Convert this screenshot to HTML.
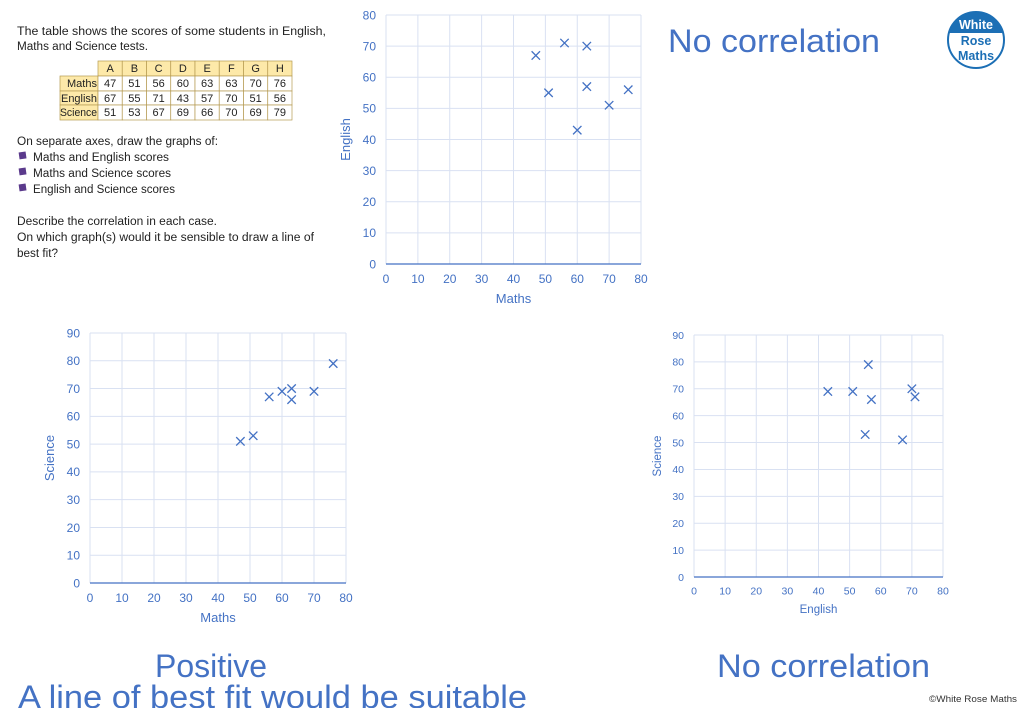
<!DOCTYPE html>
<html><head><meta charset="utf-8"><style>
html,body{margin:0;padding:0;background:#fff;width:1024px;height:708px;overflow:hidden}
svg{display:block;font-family:"Liberation Sans",sans-serif}
</style></head><body>
<svg id="s" width="1024" height="708" viewBox="0 0 1024 708">
<g font-size="11.5" fill="#222">
<text x="17" y="35" textLength="309" lengthAdjust="spacingAndGlyphs">The table shows the scores of some students in English,</text>
<text x="17" y="50" textLength="131" lengthAdjust="spacingAndGlyphs">Maths and Science tests.</text>
<text x="17" y="145" textLength="201" lengthAdjust="spacingAndGlyphs">On separate axes, draw the graphs of:</text>
<text x="33" y="161" textLength="136" lengthAdjust="spacingAndGlyphs">Maths and English scores</text>
<text x="33" y="177" textLength="138" lengthAdjust="spacingAndGlyphs">Maths and Science scores</text>
<text x="33" y="193" textLength="142" lengthAdjust="spacingAndGlyphs">English and Science scores</text>
<text x="17" y="225" textLength="200" lengthAdjust="spacingAndGlyphs">Describe the correlation in each case.</text>
<text x="17" y="241" textLength="297" lengthAdjust="spacingAndGlyphs">On which graph(s) would it be sensible to draw a line of</text>
<text x="17" y="257" textLength="41" lengthAdjust="spacingAndGlyphs">best fit?</text>
<rect x="19" y="152" width="7" height="7" fill="#5b3a8c" transform="rotate(-8 22 155)"/>
<rect x="19" y="168" width="7" height="7" fill="#5b3a8c" transform="rotate(-8 22 171)"/>
<rect x="19" y="184" width="7" height="7" fill="#5b3a8c" transform="rotate(-8 22 187)"/>
</g>
<g id="tbl"></g>
<g id="charts"></g>
<g>
<circle cx="976" cy="40" r="28" fill="#fff" stroke="#1c6fb5" stroke-width="2"/>
<path d="M949,33 A28,28 0 0 1 1003,33 Z" fill="#1c6fb5"/>
<text x="976" y="29" font-size="12.5" font-weight="bold" fill="#fff" text-anchor="middle">White</text>
<text x="976" y="45" font-size="12.5" font-weight="bold" fill="#1c6fb5" text-anchor="middle">Rose</text>
<text x="976" y="60" font-size="12.5" font-weight="bold" fill="#1c6fb5" text-anchor="middle">Maths</text>
</g>
<g fill="#4472c4" font-size="32">
<text x="668" y="52" textLength="212" lengthAdjust="spacingAndGlyphs">No correlation</text>
<text x="155" y="677" textLength="112" lengthAdjust="spacingAndGlyphs">Positive</text>
<text x="18" y="708" textLength="509" lengthAdjust="spacingAndGlyphs">A line of best fit would be suitable</text>
<text x="717" y="677" textLength="213" lengthAdjust="spacingAndGlyphs">No correlation</text>
</g>
<text x="929" y="702" font-size="9" fill="#333" textLength="88" lengthAdjust="spacingAndGlyphs">©White Rose Maths</text>
</svg>
<script>
const NS="http://www.w3.org/2000/svg";
const students=["A","B","C","D","E","F","G","H"];
const maths=[47,51,56,60,63,63,70,76];
const english=[67,55,71,43,57,70,51,56];
const science=[51,53,67,69,66,70,69,79];
const xTicks1=[0,10,20,30,40,50,60,70,80];
const yTicks80=[0,10,20,30,40,50,60,70,80];
const yTicks90=[0,10,20,30,40,50,60,70,80,90];
function mk(tag,attrs,parent){const e=document.createElementNS(NS,tag);for(const k in attrs)e.setAttribute(k,attrs[k]);parent.appendChild(e);return e;}
const tbl=document.getElementById('tbl');
const rows=[["Maths",maths,30],["English",english,36],["Science",science,37]];
const cw=24.25,x0=98,ry=[61,76,91,105,120];
students.forEach((s,i)=>{
  const r=mk('rect',{x:x0+i*cw,y:ry[0],width:cw,height:ry[1]-ry[0],fill:'#fde9a9',stroke:'#b59a50','stroke-width':0.7},tbl);
  
  const t=mk('text',{x:x0+i*cw+cw/2,y:ry[0]+11,'font-size':11,'text-anchor':'middle',fill:'#222'},tbl);t.textContent=s;
});
rows.forEach((row,j)=>{
  mk('rect',{x:60,y:ry[j+1],width:38,height:ry[j+2]-ry[j+1],fill:'#fde9a9',stroke:'#b59a50','stroke-width':0.7},tbl);
  const lt=mk('text',{x:97,y:ry[j+1]+11,'font-size':11,fill:'#222','text-anchor':'end',textLength:row[2],lengthAdjust:'spacingAndGlyphs'},tbl);lt.textContent=row[0];
  
  row[1].forEach((v,i)=>{
    mk('rect',{x:x0+i*cw,y:ry[j+1],width:cw,height:ry[j+2]-ry[j+1],fill:'#fff',stroke:'#b59a50','stroke-width':0.7},tbl);
    const t=mk('text',{x:x0+i*cw+cw/2,y:ry[j+1]+11,'font-size':11,'text-anchor':'middle',fill:'#222'},tbl);t.textContent=v;
  });
});
function chart(name,px0,px1,py0,py1,xmax,ymax,yticks,xs,ys,xlab,ylab,fs){
  const g=mk('g',{},document.getElementById('charts'));
  
  
  const X=v=>px0+(px1-px0)*v/xmax, Y=v=>py0-(py0-py1)*v/ymax;
  xTicks1.forEach(v=>{mk('line',{x1:X(v),x2:X(v),y1:py0,y2:py1,stroke:'#d9e1f2','stroke-width':1},g);
    const t=mk('text',{x:X(v),y:py0+fs+7,'font-size':fs,'text-anchor':'middle',fill:'#4472c4'},g);t.textContent=v;});
  yticks.forEach(v=>{mk('line',{x1:px0,x2:px1,y1:Y(v),y2:Y(v),stroke:'#d9e1f2','stroke-width':1},g);
    const t=mk('text',{x:px0-10,y:Y(v)+fs*0.36,'font-size':fs,'text-anchor':'end',fill:'#4472c4'},g);t.textContent=v;});
  mk('line',{x1:px0,x2:px1,y1:py0,y2:py0,stroke:'#4472c4','stroke-width':1.3},g);
  const xl=mk('text',{x:(px0+px1)/2,y:py0+fs*2+15,'font-size':fs+1,'text-anchor':'middle',fill:'#4472c4'},g);xl.textContent=xlab;
  
  const yx=px0-34-(fs-11)*2, yy=(py0+py1)/2;
  const yl=mk('text',{x:yx,y:yy,'font-size':fs+1,'text-anchor':'middle',fill:'#4472c4',transform:`rotate(-90 ${yx} ${yy})`},g);yl.textContent=ylab;
  
  xs.forEach((xv,i)=>{const cx=X(xv),cy=Y(ys[i]),d=4.2;
    const p=mk('path',{d:`M${cx-d},${cy-d}L${cx+d},${cy+d}M${cx-d},${cy+d}L${cx+d},${cy-d}`,stroke:'#4472c4','stroke-width':1.3,fill:'none'},g);
    });
}
chart('maths-english-chart',386,641,264,15,80,80,yTicks80,maths,english,'Maths','English',12);
chart('maths-science-chart',90,346,583,333,80,90,yTicks90,maths,science,'Maths','Science',12);
chart('english-science-chart',694,943,577,335,80,90,yTicks90,english,science,'English','Science',10.5);
</script>
</body></html>
